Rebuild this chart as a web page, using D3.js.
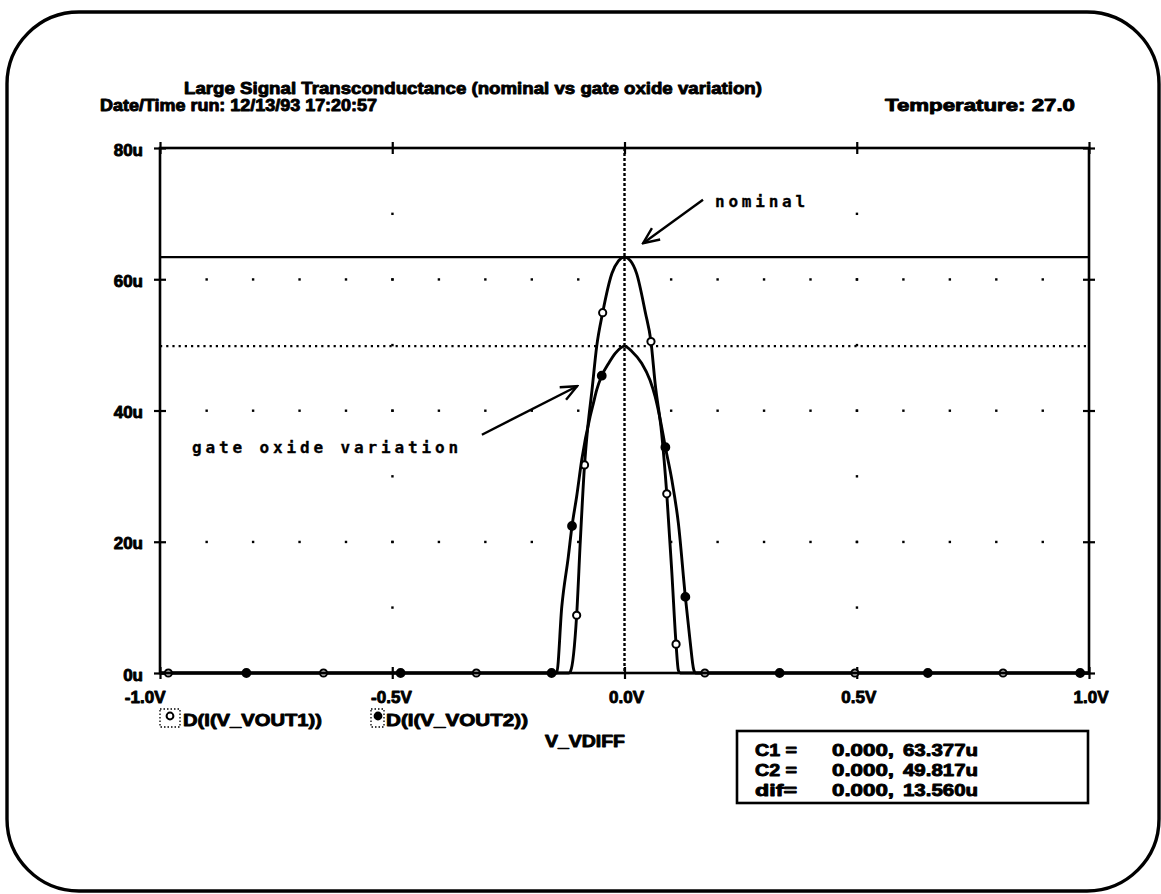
<!DOCTYPE html>
<html>
<head>
<meta charset="utf-8">
<script src="https://cdn.jsdelivr.net/npm/d3@7"></script>
<style>
  body { margin: 0; background: #fff; }
  svg { display: block; }
  text { font-family: "Liberation Sans", Arial, sans-serif; font-weight: bold; fill: #000; stroke: #000; stroke-width: 0.9px; stroke-linejoin: round; }
  .note { font-family: "DejaVu Sans Mono", monospace; font-weight: bold; stroke-width: 0.3px; }
</style>
</head>
<body>
<svg id="chart" width="1161" height="894"></svg>
<script>
// ---- Data: differential transconductance vs V_VDIFF (volts, microsiemens "u") ----
const nominalV = [-1.0, -0.982, -0.648, -0.319, -0.120, -0.116, -0.103, -0.095, -0.086, -0.079, -0.070, -0.060, -0.047, -0.027, -0.013, 0.0,
                  0.013, 0.026, 0.045, 0.057, 0.066, 0.080, 0.091, 0.102, 0.111, 0.116, 0.120, 0.173, 0.496, 0.815, 1.0];
const nominalG = [0, 0, 0, 0, 0, 0.3, 8.8, 20.3, 31.7, 37.5, 43.1, 49.7, 54.9, 60.9, 62.8, 63.377,
                  62.8, 60.9, 54.9, 50.5, 44.1, 36.5, 27.3, 15.2, 4.4, 0.4, 0, 0, 0, 0, 0];
const nominalMarks = [1, 2, 3, 6, 8, 12, 19, 22, 24, 27, 28, 29];

const oxideV = [-1.0, -0.814, -0.482, -0.157, -0.146, -0.135, -0.121, -0.113, -0.103, -0.092, -0.074, -0.067, -0.060, -0.049, -0.034, -0.020, 0.0,
                0.016, 0.037, 0.055, 0.066, 0.077, 0.088, 0.102, 0.116, 0.131, 0.141, 0.149, 0.153, 0.334, 0.653, 0.981, 1.0];
const oxideG = [0, 0, 0, 0, 0, 10.1, 17.7, 22.4, 26.9, 32.5, 39.1, 41.1, 43.1, 45.3, 47.2, 48.7, 49.817,
                49.0, 47.2, 44.6, 42.1, 38.6, 34.4, 29.4, 22.8, 11.6, 5.0, 0.5, 0, 0, 0, 0, 0];
const oxideMarks = [1, 2, 3, 7, 13, 22, 25, 29, 30, 31];

const xTicks = [-1.0, -0.5, 0.0, 0.5, 1.0];
const xTickLabels = ["-1.0V", "-0.5V", "0.0V", "0.5V", "1.0V"];
const yTicks = [0, 20, 40, 60, 80];
const yTickLabels = ["0u", "20u", "40u", "60u", "80u"];

const legendNames = ["D(I(V_VOUT1))", "D(I(V_VOUT2))"];
const cursorNames = ["C1 =", "C2 =", "dif="];
const cursorX = ["0.000,", "0.000,", "0.000,"];
const cursorY = ["63.377u", "49.817u", "13.560u"];
const cursorLevels = [63.377, 49.817];

// ---- Layout ----
const svg = d3.select("#chart");
const plot = { left: 160, right: 1089, top: 148, bottom: 673 };
const x = d3.scaleLinear().domain([-1, 1]).range([plot.left, plot.right]);
const y = d3.scaleLinear().domain([0, 80]).range([plot.bottom, plot.top]);

// Outer rounded frame
svg.append("rect")
  .attr("x", 7).attr("y", 12).attr("width", 1152).attr("height", 879)
  .attr("rx", 72).attr("ry", 72)
  .attr("fill", "none").attr("stroke", "#000").attr("stroke-width", 3.4);

// Header texts
function fitText(g, str, x0, yb, w, size, anchor) {
  return g.append("text").attr("x", x0).attr("y", yb)
    .attr("font-size", size).attr("text-anchor", anchor || "start")
    .attr("textLength", w).attr("lengthAdjust", "spacingAndGlyphs").text(str);
}
fitText(svg, "Large Signal Transconductance (nominal vs gate oxide variation)", 184, 94, 578, 17);
fitText(svg, "Date/Time run: 12/13/93  17:20:57", 100, 111, 277, 16);
fitText(svg, "Temperature: 27.0", 885, 111, 190, 17);

// Dotted grid: rows at major y ticks, columns at ±0.5 V
const gridRowX = d3.range(-9, 10).map(i => i / 10).filter(v => Math.abs(v) > 1e-9);
const gridRows = [20, 40, 60];
const gridCols = [-0.5, 0.5];
const gridColY = [10, 20, 30, 40, 50, 60, 70];
const dots = [];
gridRows.forEach(r => gridRowX.forEach(v => dots.push([v, r])));
gridCols.forEach(c => gridColY.forEach(u => dots.push([c, u])));
svg.append("g").selectAll("rect").data(dots).join("rect")
  .attr("x", d => x(d[0]) - 1).attr("y", d => y(d[1]) - 1)
  .attr("width", 2.4).attr("height", 2.4).attr("fill", "#000");

// Plot frame
svg.append("rect")
  .attr("x", plot.left).attr("y", plot.top)
  .attr("width", plot.right - plot.left).attr("height", plot.bottom - plot.top)
  .attr("fill", "none").attr("stroke", "#000").attr("stroke-width", 2.6);

// Axes: cross-shaped ticks (outward with labels, inward without)
function styleAxis(g) {
  g.select(".domain").remove();
  g.selectAll(".tick line").attr("stroke", "#000").attr("stroke-width", 2.2);
  g.selectAll(".tick text").attr("font-size", 17)
    .style("font-family", '"Liberation Sans", Arial, sans-serif').style("font-weight", "bold");
}
const axL = svg.append("g").attr("transform", `translate(${plot.left},0)`)
  .call(d3.axisLeft(y).tickValues(yTicks).tickFormat((d, i) => yTickLabels[i]).tickSizeInner(6).tickSizeOuter(0).tickPadding(11));
styleAxis(axL);
axL.selectAll(".tick text").attr("dy", "0.42em");
styleAxis(svg.append("g").attr("transform", `translate(${plot.left},0)`)
  .call(d3.axisLeft(y).tickValues(yTicks).tickFormat("").tickSize(-6)));
styleAxis(svg.append("g").attr("transform", `translate(${plot.right},0)`)
  .call(d3.axisRight(y).tickValues(yTicks).tickFormat("").tickSize(6)));
styleAxis(svg.append("g").attr("transform", `translate(${plot.right},0)`)
  .call(d3.axisRight(y).tickValues(yTicks).tickFormat("").tickSize(-6)));

const axB = svg.append("g").attr("transform", `translate(0,${plot.bottom})`)
  .call(d3.axisBottom(x).tickValues(xTicks).tickFormat((d, i) => xTickLabels[i]).tickSizeInner(6).tickSizeOuter(0).tickPadding(8));
styleAxis(axB);
axB.selectAll(".tick text").attr("text-anchor", "end").attr("dx", (d, i) => i === 0 ? 5 : 19).attr("dy", "0.95em");
styleAxis(svg.append("g").attr("transform", `translate(0,${plot.bottom})`)
  .call(d3.axisBottom(x).tickValues(xTicks).tickFormat("").tickSize(-6)));
styleAxis(svg.append("g").attr("transform", `translate(0,${plot.top})`)
  .call(d3.axisTop(x).tickValues(xTicks).tickFormat("").tickSize(6)));
styleAxis(svg.append("g").attr("transform", `translate(0,${plot.top})`)
  .call(d3.axisTop(x).tickValues(xTicks).tickFormat("").tickSize(-6)));

// Cursors: C1 solid, C2 dotted, shared vertical at 0 V
svg.append("line").attr("x1", x(-1)).attr("x2", x(1)).attr("y1", y(cursorLevels[0])).attr("y2", y(cursorLevels[0]))
  .attr("stroke", "#000").attr("stroke-width", 2.4);
svg.append("line").attr("x1", x(-1)).attr("x2", x(1)).attr("y1", y(cursorLevels[1])).attr("y2", y(cursorLevels[1]))
  .attr("stroke", "#000").attr("stroke-width", 2.4).attr("stroke-dasharray", "2.2 4");
svg.append("line").attr("x1", x(0)).attr("x2", x(0)).attr("y1", y(80)).attr("y2", y(0))
  .attr("stroke", "#000").attr("stroke-width", 2.4).attr("stroke-dasharray", "3 2");

// Traces
const series = [
  { v: nominalV, g: nominalG, marks: nominalMarks, open: true },
  { v: oxideV, g: oxideG, marks: oxideMarks, open: false }
];
const line = d3.line().x(d => x(d[0])).y(d => y(d[1])).curve(d3.curveMonotoneX);
series.forEach(s => {
  const pts = s.v.map((v, i) => [v, s.g[i]]);
  svg.append("path").datum(pts).attr("d", line)
    .attr("fill", "none").attr("stroke", "#000").attr("stroke-width", 2.9).attr("stroke-linejoin", "round");
  svg.append("g").selectAll("circle").data(s.marks.map(i => pts[i])).join("circle")
    .attr("cx", d => x(d[0])).attr("cy", d => y(d[1]))
    .attr("r", s.open ? 3.6 : 3.9)
    .attr("fill", s.open ? "#fff" : "#000").attr("stroke", "#000").attr("stroke-width", 2);
});

// Annotations
const defs = svg.append("defs");
defs.append("marker").attr("id", "head").attr("viewBox", "0 0 20 20").attr("refX", 18).attr("refY", 10)
  .attr("markerWidth", 20).attr("markerHeight", 20).attr("markerUnits", "userSpaceOnUse").attr("orient", "auto")
  .append("path").attr("d", "M2,3 L18,10 L2,17").attr("fill", "none").attr("stroke", "#000").attr("stroke-width", 2.4);

svg.append("line").attr("x1", x(0.169)).attr("y1", y(72.1)).attr("x2", x(0.040)).attr("y2", y(65.5))
  .attr("stroke", "#000").attr("stroke-width", 2.4).attr("marker-end", "url(#head)");
svg.append("text").attr("class", "note").attr("x", x(0.195)).attr("y", y(71.0))
  .attr("font-size", 16).attr("textLength", 90).attr("lengthAdjust", "spacing").text("nominal");

svg.append("line").attr("x1", x(-0.307)).attr("y1", y(36.3)).attr("x2", x(-0.102)).attr("y2", y(43.7))
  .attr("stroke", "#000").attr("stroke-width", 2.4).attr("marker-end", "url(#head)");
svg.append("text").attr("class", "note").attr("x", x(-0.931)).attr("y", y(33.6))
  .attr("font-size", 16).attr("textLength", 266).attr("lengthAdjust", "spacing").text("gate oxide variation");

// Legend
const legX = [160, 371];
const legTextX = [183, 386];
legendNames.forEach((name, i) => {
  svg.append("rect").attr("x", legX[i]).attr("y", 709).attr("width", i === 0 ? 20 : 13).attr("height", 18)
    .attr("fill", "none").attr("stroke", "#000").attr("stroke-width", 1.3).attr("stroke-dasharray", "1.5 2");
  svg.append("circle").attr("cx", legX[i] + (i === 0 ? 10 : 7)).attr("cy", 716).attr("r", 3.4)
    .attr("fill", i === 0 ? "#fff" : "#000").attr("stroke", "#000").attr("stroke-width", 2);
  fitText(svg, name, legTextX[i], 726, i === 0 ? 139 : 142, 17);
});
fitText(svg, "V_VDIFF", 545, 747, 80, 17);

// Cursor readout box
svg.append("rect").attr("x", 737).attr("y", 731).attr("width", 351).attr("height", 72)
  .attr("fill", "none").attr("stroke", "#000").attr("stroke-width", 2.6);
const rowY = [756, 776, 796];
cursorNames.forEach((n, i) => {
  fitText(svg, n, 755, rowY[i], 42, 17);
  fitText(svg, cursorX[i], 832, rowY[i], 62, 17);
  fitText(svg, cursorY[i], 903, rowY[i], 75, 17);
});
</script>
</body>
</html>
